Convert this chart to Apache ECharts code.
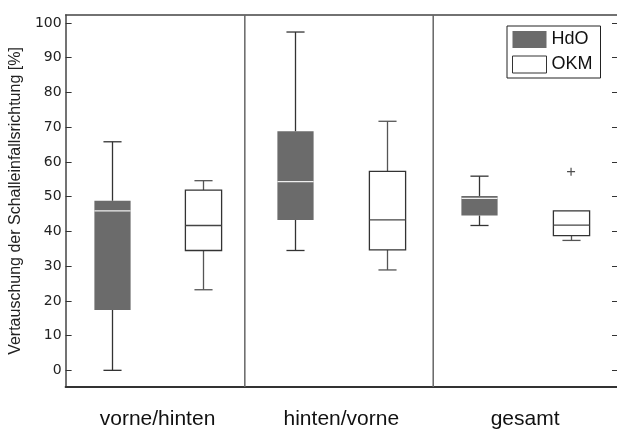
<!DOCTYPE html>
<html><head><meta charset="utf-8">
<script src="https://cdn.jsdelivr.net/npm/echarts@6/dist/echarts.min.js"></script>
<style>html,body{margin:0;padding:0;background:#fff}#c{width:617px;height:430px}</style>
</head><body><div id="c"></div>
<script>
// ---- data ----
const groups = ['vorne/hinten', 'hinten/vorne', 'gesamt'];
const slots = ['vh-HdO', 'vh-OKM', 'hv-HdO', 'hv-OKM', 'g-HdO', 'g-OKM'];
// [min, q1, median, q3, max]
const hdo = [[0, 17.4, 45.9, 48.8, 65.8], [34.5, 43.3, 54.3, 68.8, 97.4], [41.7, 44.6, 49.5, 50.2, 55.9]];
const okm = [[23.2, 34.5, 41.7, 51.9, 54.6], [28.9, 34.7, 43.3, 57.3, 71.7], [37.4, 38.8, 41.8, 45.9, 45.9]];
const okmOutliers = [[5, 57.2]];
const yTicks = [0, 10, 20, 30, 40, 50, 60, 70, 80, 90, 100];
const separators = [2.45, 4.5];
const yMin = -4.8, yMax = 102.3;

const FONT = '"Liberation Sans", Arial, sans-serif';

function makeRender(st) {
  return function (params, api) {
    const x = api.value(0);
    const p = [1, 2, 3, 4, 5].map(i => api.coord([x, api.value(i)]));
    const cx = Math.round(p[0][0]) + 0.5;
    const bw = api.size([1, 0])[0] * 0.394;
    const half = bw / 2, capHalf = bw / 4;
    const ws = { stroke: st.whisker, lineWidth: 1.3 };
    const ch = [];
    if (api.value(5) > api.value(4)) {
      ch.push({ type: 'line', shape: { x1: cx, y1: p[3][1], x2: cx, y2: p[4][1] }, style: ws });
      ch.push({ type: 'line', shape: { x1: cx - capHalf, y1: p[4][1], x2: cx + capHalf, y2: p[4][1] }, style: ws });
    }
    ch.push({ type: 'line', shape: { x1: cx, y1: p[0][1], x2: cx, y2: p[1][1] }, style: ws });
    ch.push({ type: 'line', shape: { x1: cx - capHalf, y1: p[0][1], x2: cx + capHalf, y2: p[0][1] }, style: ws });
    ch.push({ type: 'rect', shape: { x: cx - half, y: p[3][1], width: bw, height: p[1][1] - p[3][1] },
      style: { fill: st.fill, stroke: st.stroke, lineWidth: st.lw } });
    ch.push({ type: 'line', shape: { x1: cx - half, y1: p[2][1], x2: cx + half, y2: p[2][1] },
      style: { stroke: st.median, lineWidth: 1.3 } });
    return { type: 'group', children: ch };
  };
}

const sepSeries = separators.map((s, i) => ({
  type: 'line', name: 'sep' + i, xAxisIndex: 2, yAxisIndex: 0, symbol: 'none', silent: true,
  data: [[s, yMin], [s, yMax]], lineStyle: { color: '#666', width: 1.5 }
}));

const chart = echarts.init(document.getElementById('c'), null, { renderer: 'canvas' });
chart.setOption({
  animation: false,
  backgroundColor: '#fff',
  grid: { left: 64, top: 15, width: 553, height: 374, containLabel: false },
  legend: {
    orient: 'vertical', left: 507, top: 26,
    borderColor: '#222', borderWidth: 1, padding: [4, 8, 4, 5],
    itemGap: 6, itemWidth: 34, itemHeight: 17,
    textStyle: { fontSize: 18, color: '#111', fontFamily: FONT, lineHeight: 19 },
    data: [
      { name: 'HdO', icon: 'rect', itemStyle: { color: '#6b6b6b', borderWidth: 0 } },
      { name: 'OKM', icon: 'rect', itemStyle: { color: '#fff', borderColor: '#333', borderWidth: 1 } }
    ]
  },
  xAxis: [
    { type: 'category', data: slots, position: 'bottom', boundaryGap: true,
      axisLine: { show: true, onZero: false, lineStyle: { color: '#333', width: 2 } },
      axisTick: { show: false }, axisLabel: { show: false }, splitLine: { show: false } },
    { type: 'category', data: groups, position: 'bottom', boundaryGap: true,
      axisLine: { show: false, onZero: false }, axisTick: { show: false }, splitLine: { show: false },
      axisLabel: { show: true, fontSize: 21, color: '#111', fontFamily: FONT, margin: 22 } },
    { type: 'value', min: 0.5, max: 6.5, position: 'top',
      axisLine: { show: true, onZero: false, lineStyle: { color: '#444', width: 1.5 } },
      axisTick: { show: false }, axisLabel: { show: false }, splitLine: { show: false } }
  ],
  yAxis: [
    { type: 'value', min: yMin, max: yMax, position: 'left',
      name: 'Vertauschung der Schalleinfallsrichtung [%]', nameLocation: 'middle', nameGap: 34,
      nameTextStyle: { fontSize: 16, color: '#222', fontFamily: FONT },
      axisLine: { show: true, onZero: false, lineStyle: { color: '#444', width: 1.5 } },
      axisTick: { show: true, inside: true, length: 6, customValues: yTicks, lineStyle: { color: '#333', width: 1 } },
      axisLabel: { show: true, customValues: yTicks, fontSize: 14, color: '#222', fontFamily: '"DejaVu Sans", sans-serif', margin: 4 },
      splitLine: { show: false } },
    { type: 'value', min: yMin, max: yMax, position: 'right',
      axisLine: { show: false },
      axisTick: { show: true, inside: true, length: 5, customValues: yTicks, lineStyle: { color: '#333', width: 1 } },
      axisLabel: { show: false }, splitLine: { show: false } }
  ],
  series: [
    ...sepSeries,
    { type: 'custom', name: 'HdO', xAxisIndex: 0, yAxisIndex: 0,
      itemStyle: { color: '#6b6b6b' },
      renderItem: makeRender({ fill: '#6b6b6b', stroke: null, lw: 0, median: '#eeeeee', whisker: '#333' }),
      encode: { x: 0, y: [1, 2, 3, 4, 5] },
      data: hdo.map((d, i) => [i * 2, ...d]) },
    { type: 'custom', name: 'OKM', xAxisIndex: 0, yAxisIndex: 0,
      itemStyle: { color: '#fff' },
      renderItem: makeRender({ fill: '#fff', stroke: '#333', lw: 1.3, median: '#444', whisker: '#555' }),
      encode: { x: 0, y: [1, 2, 3, 4, 5] },
      data: okm.map((d, i) => [i * 2 + 1, ...d]) },
    { type: 'scatter', name: 'outlier', xAxisIndex: 0, yAxisIndex: 0,
      symbol: 'path://M0 5 L10 5 M5 0 L5 10', symbolSize: 8,
      itemStyle: { color: 'rgba(0,0,0,0)', borderColor: '#222', borderWidth: 1.2 },
      data: okmOutliers }
  ]
});
</script></body></html>
